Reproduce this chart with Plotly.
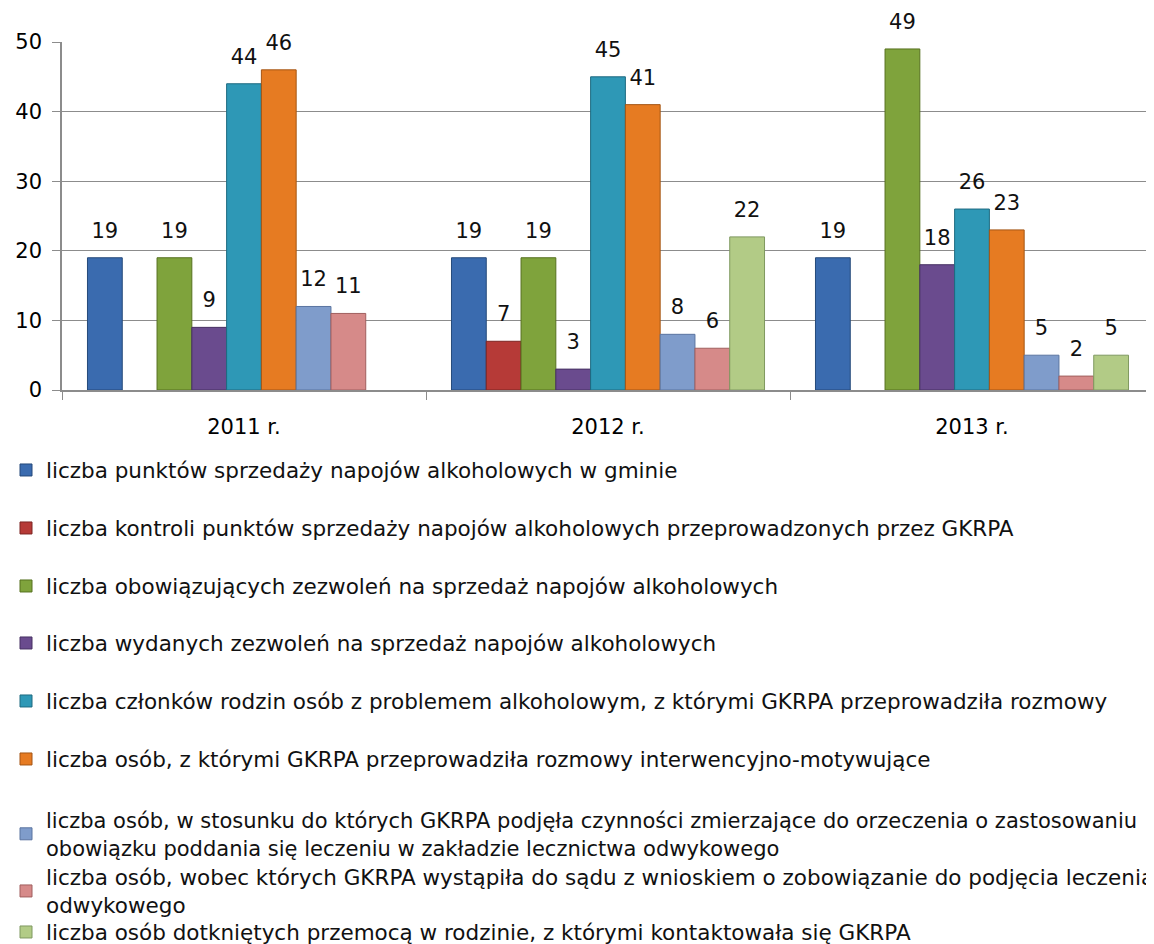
import plotly.graph_objects as go

categories = ["2011 r.", "2012 r.", "2013 r."]

series_names = [
    "liczba punktów sprzedaży napojów alkoholowych w gminie",
    "liczba kontroli punktów sprzedaży napojów alkoholowych przeprowadzonych przez GKRPA",
    "liczba obowiązujących zezwoleń na sprzedaż napojów alkoholowych",
    "liczba wydanych zezwoleń na sprzedaż napojów alkoholowych",
    "liczba członków rodzin osób z problemem alkoholowym, z którymi GKRPA przeprowadziła rozmowy",
    "liczba osób, z którymi GKRPA przeprowadziła rozmowy interwencyjno-motywujące",
    "liczba osób, w stosunku do których GKRPA podjęła czynności zmierzające do orzeczenia o zastosowaniu<br>obowiązku poddania się leczeniu w zakładzie lecznictwa odwykowego",
    "liczba osób, wobec których GKRPA wystąpiła do sądu z wnioskiem o zobowiązanie do podjęcia leczenia<br>odwykowego",
    "liczba osób dotkniętych przemocą w rodzinie, z którymi kontaktowała się GKRPA",
]

punkty_sprzedazy = [19, 19, 19]
kontrole = [None, 7, None]
zezwolenia_obow = [19, 19, 49]
zezwolenia_wyd = [9, 3, 18]
czlonkowie_rodzin = [44, 45, 26]
rozmowy_interw = [46, 41, 23]
orzeczenia = [12, 8, 5]
wnioski_sad = [11, 6, 2]
przemoc = [None, 22, 5]

values = [punkty_sprzedazy, kontrole, zezwolenia_obow, zezwolenia_wyd,
          czlonkowie_rodzin, rozmowy_interw, orzeczenia, wnioski_sad, przemoc]

colors = ["#3A6BAF", "#B63A37", "#7FA33C", "#6A4B8E", "#2E98B6",
          "#E67B22", "#7F9CCB", "#D68A89", "#B2CB86"]
edges = ["#24497A", "#7D2523", "#56711F", "#473163", "#1E6A80",
         "#A45514", "#5A74A0", "#A05F5E", "#7F9960"]

FONT = "DejaVu Sans"

# layout geometry (figure pixels; page has an 8px body margin)
OFF = 8
W, H = 1154 - OFF, 944 - OFF
ML, MR, MT, MB = 62 - OFF, 0, 42 - OFF, 944 - 390
plot_h = H - MT - MB
plot_w = W - ML - MR
y0_px = H - MB
legend_centers = [470, 528, 586, 643, 701, 759, 834, 891, 932]
legend_sizes = [21.5, 21.5, 21.5, 21.5, 21.5, 21.5, 21, 21.5, 21.5]
GAP = 0.14

fig = go.Figure()
for i, (name, vals) in enumerate(zip(series_names, values)):
    fig.add_trace(go.Bar(
        x=categories, y=vals, name=name,
        marker=dict(color=colors[i], line=dict(color=edges[i], width=1)),
        hoverinfo="y+name",
        legend="legend" if i == 0 else f"legend{i+1}",
    ))
for i, vals in enumerate(values):
    fig.add_trace(go.Scatter(
        x=categories, y=vals, mode="markers+text",
        marker=dict(size=22, opacity=0),
        text=[("" if v is None else str(v)) for v in vals],
        textposition="top center",
        textfont=dict(family=FONT, size=21, color="#111111"),
        cliponaxis=False, showlegend=False, hoverinfo="skip",
    ))

layout_legends = {}
for i, c in enumerate(legend_centers):
    key = "legend" if i == 0 else f"legend{i+1}"
    layout_legends[key] = dict(
        x=(-2 - ML) / plot_w, xanchor="left",
        y=(y0_px - (c - OFF)) / plot_h, yanchor="middle",
        font=dict(family=FONT, size=legend_sizes[i], color="#111111"),
        bgcolor="rgba(0,0,0,0)",
        borderwidth=0,
    )

fig.update_layout(
    width=W, height=H,
    margin=dict(l=ML, r=MR, t=MT, b=MB, autoexpand=False),
    paper_bgcolor="white", plot_bgcolor="white",
    barmode="group", bargap=GAP, bargroupgap=0,
    scattermode="group", scattergap=GAP,
    showlegend=True,
    font=dict(family=FONT, size=20, color="#111111"),
    xaxis=dict(
        showline=True, linecolor="#8C8C8C", linewidth=1.5,
        ticks="outside", tickson="boundaries", ticklen=8, tickcolor="#8C8C8C",
        tickfont=dict(family=FONT, size=21, color="#000000"),
        showgrid=False,
        ticklabelstandoff=17,
    ),
    yaxis=dict(
        range=[0, 50], dtick=10,
        showline=True, linecolor="#8C8C8C", linewidth=1.5,
        ticks="outside", ticklen=8, tickcolor="#8C8C8C",
        tickfont=dict(family=FONT, size=21, color="#000000"),
        showgrid=True, gridcolor="#8C8C8C", gridwidth=1,
        zeroline=False,
        ticklabelstandoff=6,
    ),
    **layout_legends,
)

fig.write_html("out.html")
